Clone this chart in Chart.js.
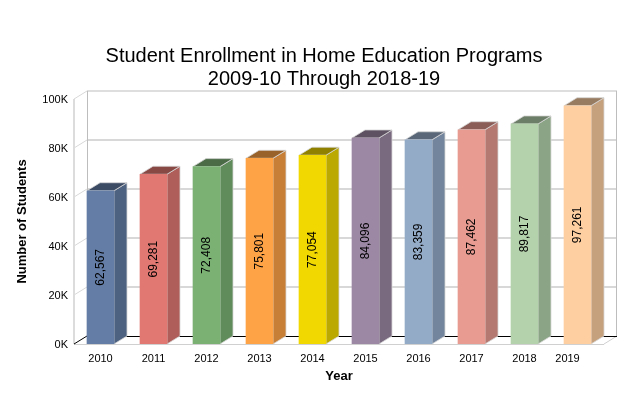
<!DOCTYPE html>
<html>
<head>
<meta charset="utf-8">
<title>Student Enrollment</title>
<script src="https://cdn.jsdelivr.net/npm/chart.js@4"></script>
<style>
  html, body { margin: 0; padding: 0; background: #fff; }
  #wrap { width: 638px; height: 395px; }
</style>
</head>
<body>
<div id="wrap"><canvas id="grafico"></canvas></div>
<script>
const anos = ['2010', '2011', '2012', '2013', '2014', '2015', '2016', '2017', '2018', '2019'];
const alunos = [62567, 69281, 72408, 75801, 77054, 84096, 83359, 87462, 89817, 97261];
const cores = ['#637da6', '#e27872', '#7bb274', '#ffa347', '#f0d800', '#9c88a4', '#94abc8', '#e79b91', '#b4d2ac', '#fecfa1'];
const titulo = ['Student Enrollment in Home Education Programs', '2009-10 Through 2018-19'];

const fonte = 'Arial, "Liberation Sans", sans-serif';
// depth of the fake 3D box
const dx = 13, dy = -8;

function escurecer(hex, f) {
  const n = parseInt(hex.slice(1), 16);
  const r = Math.round((n >> 16) * f), g = Math.round(((n >> 8) & 255) * f), b = Math.round((n & 255) * f);
  return 'rgb(' + r + ',' + g + ',' + b + ')';
}

function linha(ctx, x1, y1, x2, y2, cor, w) {
  ctx.strokeStyle = cor;
  ctx.lineWidth = w;
  ctx.beginPath();
  ctx.moveTo(x1, y1);
  ctx.lineTo(x2, y2);
  ctx.stroke();
}

function face(ctx, pts, cor) {
  ctx.fillStyle = cor;
  ctx.strokeStyle = 'rgba(215,215,215,0.8)';
  ctx.lineWidth = 1;
  ctx.beginPath();
  pts.forEach((p, i) => i ? ctx.lineTo(p[0], p[1]) : ctx.moveTo(p[0], p[1]));
  ctx.closePath();
  ctx.fill();
  ctx.stroke();
}

const caixa3d = {
  id: 'caixa3d',
  afterLayout(chart) {
    // title is centred a bit right of the canvas middle
    chart.titleBlock.left = 12;
    chart.titleBlock.right = 636;
  },
  afterUpdate(chart) {
    // last year label sits left of its bar in the original
    chart.scales.x.getLabelItems()[9].options.translation[0] -= 10;
    chart.scales.y.getLabelItems().forEach((item) => { item.options.translation[1] += 1; });
  },
  beforeDatasetsDraw(chart) {
    const ctx = chart.ctx, a = chart.chartArea, y = chart.scales.y;
    ctx.save();
    // grid on the side wall and back wall
    y.ticks.forEach((t, i) => {
      const py = y.getPixelForValue(t.value);
      if (i > 0) {
        linha(ctx, a.left, py, a.left + dx, py + dy, '#d8d8d8', 1);
        linha(ctx, a.left + dx, py + dy, a.right + dx, py + dy, i === y.ticks.length - 1 ? '#bdbdbd' : '#d8d8d8', i === y.ticks.length - 1 ? 1 : 2);
      }
    });
    linha(ctx, a.left, a.top, a.left, a.bottom, '#dcdcdc', 2);
    linha(ctx, a.left + dx + 0.5, a.top + dy, a.left + dx + 0.5, a.bottom + dy, '#bdbdbd', 1);
    linha(ctx, a.right + dx - 0.5, a.top + dy, a.right + dx - 0.5, a.bottom + dy, '#bdbdbd', 1);
    // floor
    linha(ctx, a.left, a.bottom + 0.5, a.right, a.bottom + 0.5, '#d0d0d0', 1);
    linha(ctx, a.right, a.bottom, a.right + dx, a.bottom + dy, '#d0d0d0', 1);
    linha(ctx, a.left, a.bottom, a.left + dx, a.bottom + dy, '#000', 1);
    linha(ctx, a.left + dx, a.bottom + dy + 0.5, a.right + dx, a.bottom + dy + 0.5, '#000', 1);
    // side and top of each bar
    chart.getDatasetMeta(0).data.forEach((el, i) => {
      const l = el.x - el.width / 2, r = el.x + el.width / 2;
      face(ctx, [[r, el.y], [r + dx, el.y + dy], [r + dx, el.base + dy], [r, el.base]], escurecer(cores[i], 0.78));
      face(ctx, [[l, el.y], [l + dx, el.y + dy], [r + dx, el.y + dy], [r, el.y]], escurecer(cores[i], 0.6));
    });
    ctx.restore();
  },
  afterDatasetsDraw(chart) {
    const ctx = chart.ctx;
    ctx.save();
    ctx.font = '12px ' + fonte;
    ctx.fillStyle = '#000';
    ctx.textAlign = 'center';
    ctx.textBaseline = 'middle';
    chart.getDatasetMeta(0).data.forEach((el, i) => {
      ctx.save();
      ctx.translate(el.x, (el.y + el.base) / 2);
      ctx.rotate(-Math.PI / 2);
      ctx.fillText(alunos[i].toLocaleString('en-US'), 0, 0);
      ctx.restore();
    });
    ctx.restore();
  }
};

new Chart(document.getElementById('grafico'), {
  type: 'bar',
  data: {
    labels: anos,
    datasets: [{
      label: 'Number of Students',
      data: alunos,
      backgroundColor: cores,
      borderWidth: 0,
      barThickness: 27
    }]
  },
  options: {
    responsive: true,
    maintainAspectRatio: false,
    animation: false,
    layout: { padding: { left: 0, right: 34, top: 0, bottom: 0 } },
    plugins: {
      legend: { display: false },
      tooltip: { enabled: false },
      title: {
        display: true,
        text: titulo,
        color: '#000',
        font: { family: fonte, size: 20, weight: 'normal', lineHeight: 1.15 },
        padding: { top: 45, bottom: 8 }
      }
    },
    scales: {
      x: {
        grid: { display: false, drawTicks: false },
        border: { display: false },
        ticks: { color: '#000', font: { family: fonte, size: 11 }, padding: 8, maxRotation: 0, autoSkip: false },
        title: { display: true, text: 'Year', color: '#000', font: { family: fonte, size: 13, weight: 'bold' }, padding: { top: 3, bottom: 11 } },
        afterFit(scale) { scale.height = 51; }
      },
      y: {
        min: 0,
        max: 100000,
        grid: { display: false, drawTicks: false },
        border: { display: false },
        ticks: {
          stepSize: 20000,
          color: '#000',
          font: { family: fonte, size: 11 },
          padding: 6,
          callback: (v) => (v / 1000) + 'K'
        },
        title: { display: true, text: 'Number of Students', color: '#000', font: { family: fonte, size: 13, weight: 'bold' }, padding: { top: 15, bottom: 4 } },
        afterFit(scale) { scale.width = 74; }
      }
    }
  },
  plugins: [caixa3d]
});
</script>
</body>
</html>
